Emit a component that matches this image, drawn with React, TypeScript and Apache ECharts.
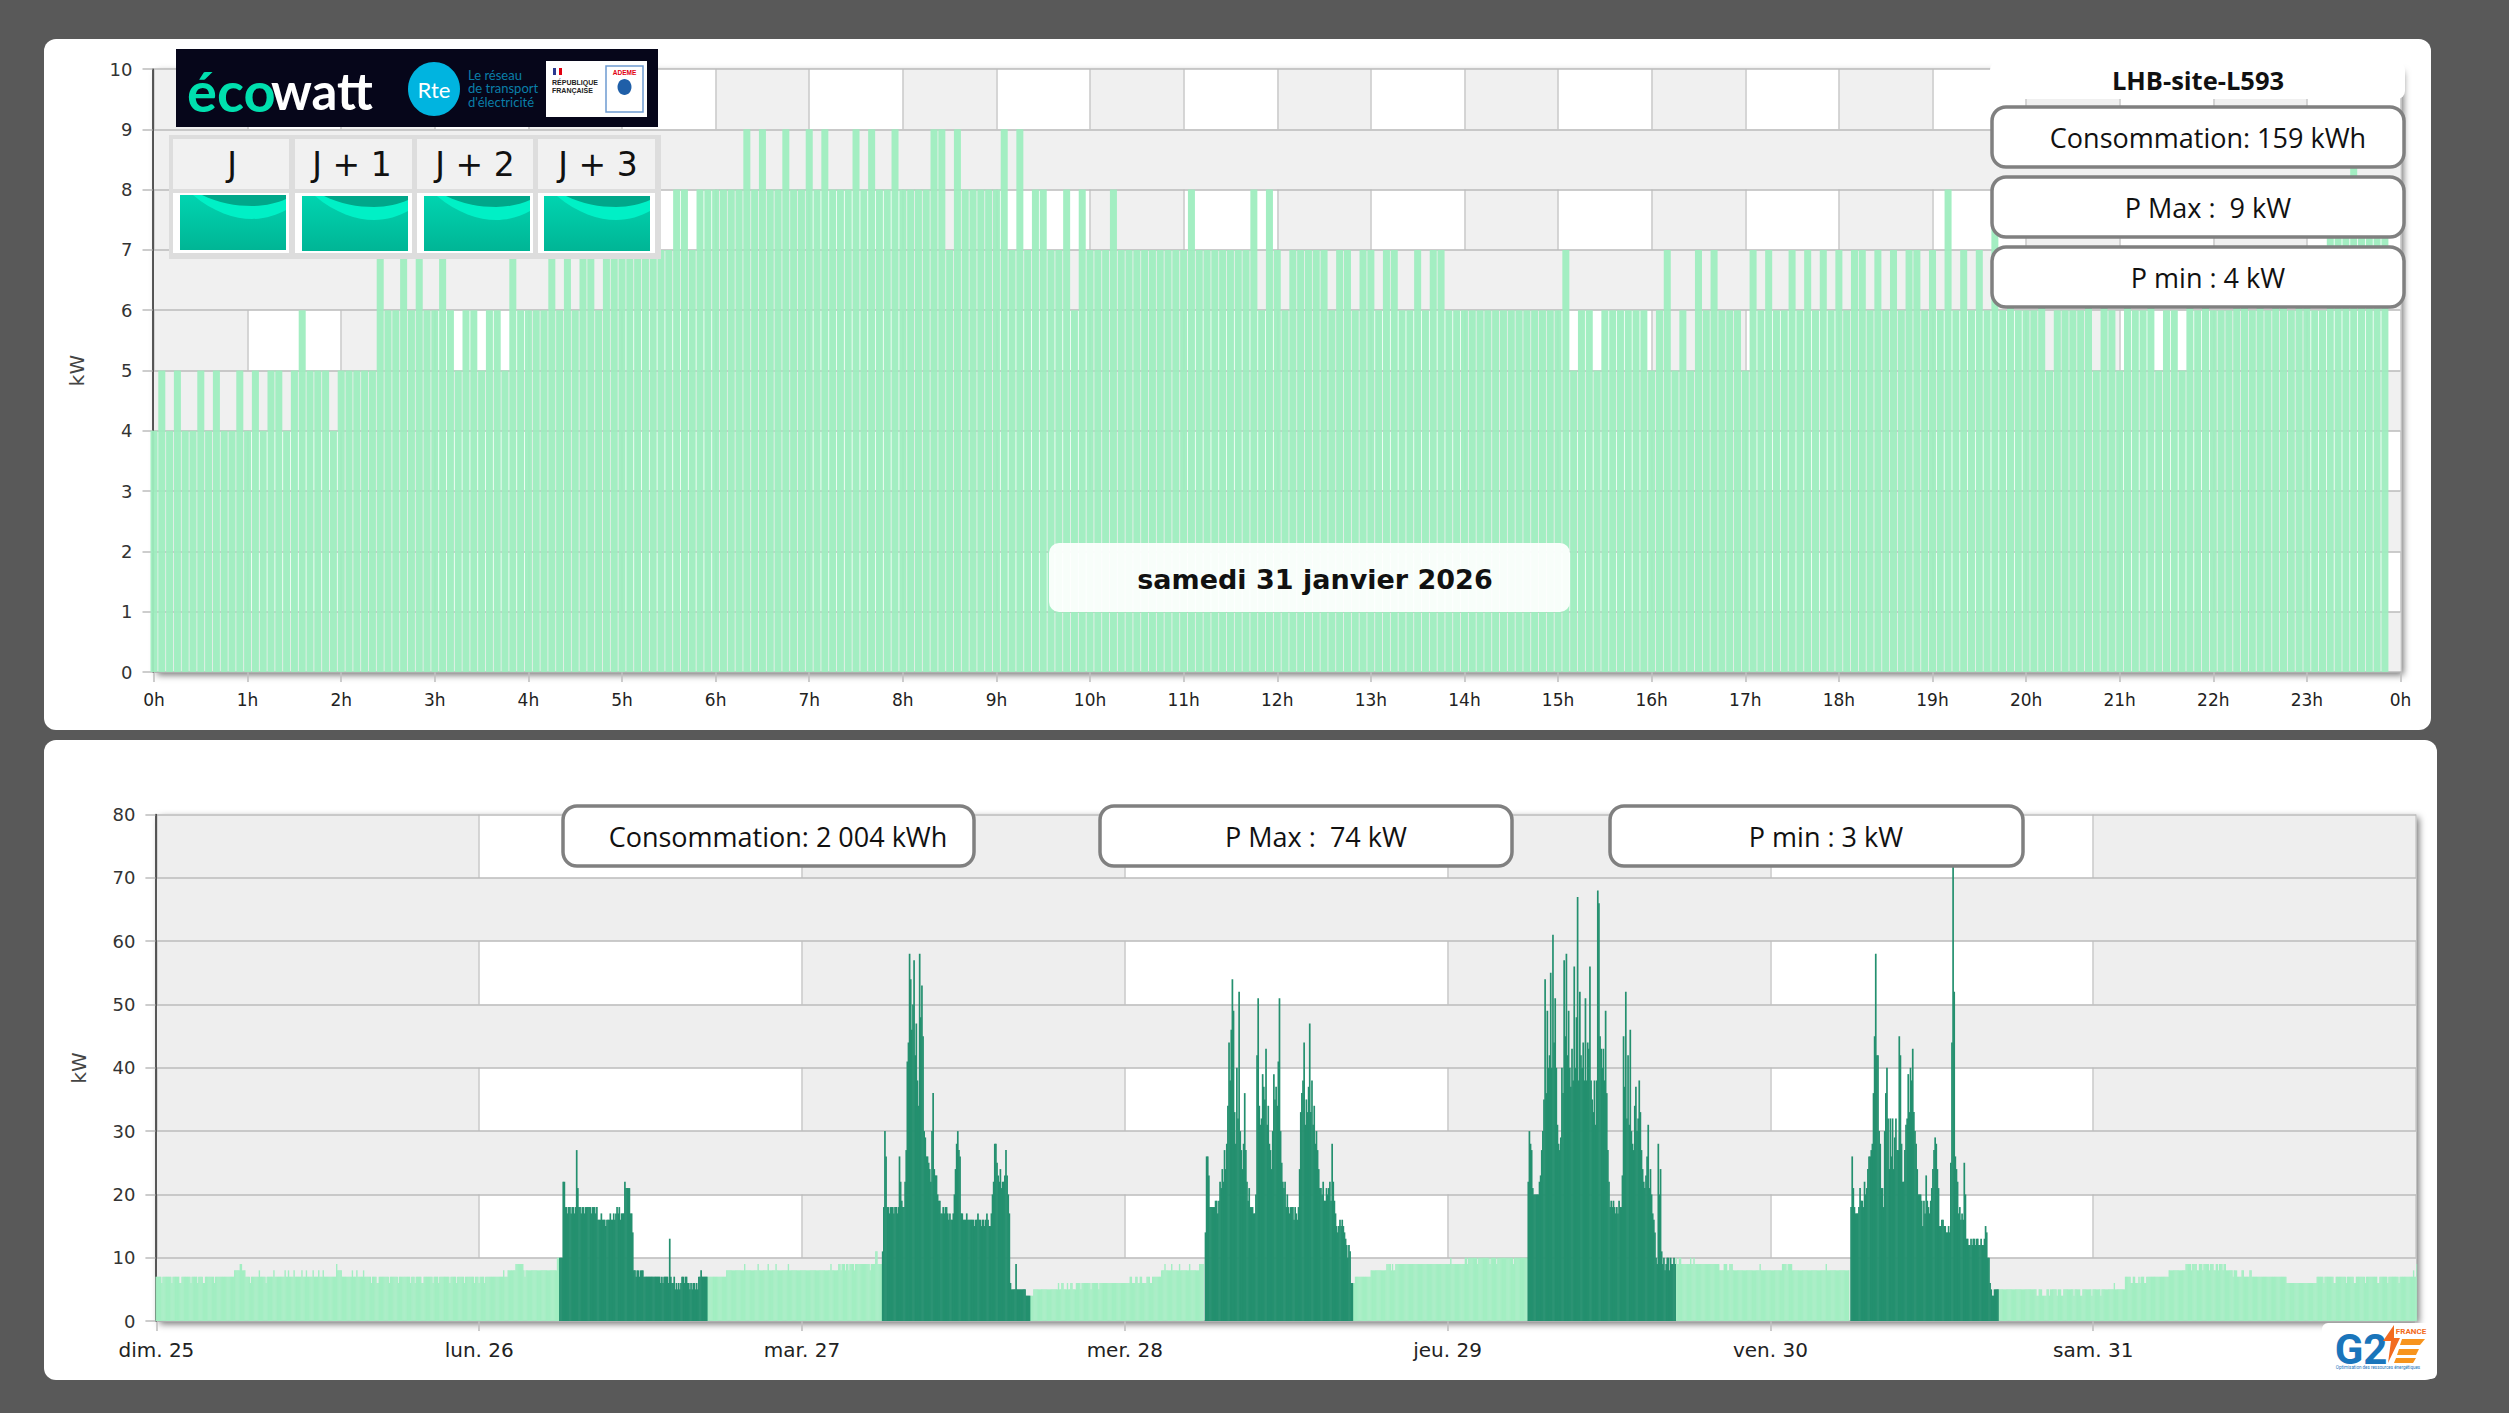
import React, { useEffect, useRef } from "react";
import * as echarts from "echarts";

const W = 2509;
const H = 1413;

// --- Top chart : one value every 5 minutes, one row per hour
const hourLabels = Array.from({ length: 25 }, (_, h) => `${h % 24}h`);
const dayPower: number[] = [
  4,5,4,5,4,4,5,4,5,4,4,5,
  4,5,4,5,5,4,5,6,5,5,5,4,
  5,5,5,5,5,7,6,6,7,6,7,6,
  6,7,6,5,6,6,5,6,6,5,7,6,
  6,6,6,7,6,7,6,7,7,6,7,7,
  7,7,7,7,7,7,7,8,8,7,8,8,
  8,8,8,8,9,8,9,8,8,9,8,8,
  9,8,9,8,8,8,9,8,9,8,8,9,
  8,8,8,8,9,9,7,9,8,8,8,8,
  8,9,7,9,7,8,8,7,7,8,6,8,
  7,7,7,8,7,7,7,7,7,7,7,7,
  7,8,7,7,7,7,7,7,7,8,6,8,
  7,6,7,7,7,7,7,6,7,7,6,7,
  7,6,7,7,6,6,7,6,7,7,6,6,
  6,6,6,6,6,6,6,6,6,6,6,6,
  6,7,5,6,6,5,6,6,6,6,6,6,
  5,6,7,5,6,5,7,6,7,6,6,6,
  5,7,6,7,6,6,7,6,7,6,7,6,
  7,6,7,7,6,7,6,7,6,7,7,6,
  7,6,8,6,7,6,7,6,8,6,7,6,
  6,6,7,5,6,6,6,6,7,5,7,6,
  5,7,6,6,7,5,6,6,5,7,6,7,
  6,6,6,7,7,6,7,6,7,7,6,7,
  7,6,6,8,8,8,9,8,8,8,8,
];

// --- Bottom chart : week, 5 minute steps
const dayLabels = ["dim. 25", "lun. 26", "mar. 27", "mer. 28", "jeu. 29", "ven. 30", "sam. 31"];

// off-hours periods, as value,count pairs
const offSunMon = [7,5,6,1,7,8,6,1,7,6,6,2,7,8,6,1,7,5,6,1,7,4,6,2,7,8,6,1,7,5,7,12,8,5,9,2,8,3,7,4,6,1,7,7,8,1,7,5,6,1,7,6,8,1,7,9,8,1,7,2,8,1,7,4,8,1,7,6,8,1,7,3,8,1,7,5,8,1,7,4,8,1,7,3,8,1,7,11,9,1,8,4,7,9,8,1,7,3,8,1,7,5,8,1,7,6,6,1,7,4,6,2,7,9,6,1,7,7,6,1,7,10,6,1,7,3,6,1,7,5,6,2,7,8,6,1,7,4,6,1,7,9,6,1,7,5,6,1,7,6,6,1,7,8,6,1,7,3,6,1,7,4,6,1,7,16,8,1,7,3,8,7,9,7,8,1,7,1,8,28,10,2];
const offMonTue = [7,17,8,16,9,1,8,11,9,1,8,8,9,1,8,6,9,1,8,10,9,1,8,37,9,1,8,6,9,2,8,1,9,3,8,1,9,2,8,1,9,4,8,1,9,13,8,1,9,4,11,2,9,4];
const offTueWed = [4,3,5,22,6,1,5,2,6,2,5,3,6,1,5,2,6,2,5,3,6,4,5,1,6,8,5,1,6,6,5,1,6,27,7,2,6,3,7,2,6,2,7,2,6,4,7,3,6,2,7,8,8,3,9,1,8,5,9,1,8,6,9,1,8,8,9,1,8,8,9,4];
const offWedThu = [6,2,7,14,8,14,9,4,8,1,9,1,8,2,9,49,10,1,9,12,10,2,9,1,10,8,9,1,10,10,9,1,10,5,9,1,10,14,9,1,10,12];
const offThuFri = [10,1,9,2,10,2,9,8,10,1,9,2,10,1,9,22,8,4,9,3,8,2,9,3,8,24,9,1,8,19,9,4,8,1,9,4,8,30,9,1,8,20];
const offFriSun = [5,34,4,2,5,3,4,4,5,2,4,1,5,6,4,1,5,3,4,2,5,9,4,1,5,5,4,2,5,8,4,1,5,7,4,1,5,11,6,1,5,9,7,5,6,2,7,2,6,3,7,1,6,1,7,3,6,2,7,20,8,15,9,5,8,1,9,4,8,2,9,3,8,1,9,5,8,1,9,3,8,2,9,2,8,1,9,3,8,1,9,2,8,6,7,1,8,3,7,4,8,2,7,5,8,2,7,31,6,27,7,6,6,1,7,8,6,2,7,9,6,1,7,6,6,2,7,8,6,1,7,10,6,2,7,7,6,1,7,9,6,1,7,12,8,1,7,2,9,2,8,4];

// working hours (6h - 17h), 132 values each
const workMon = [10,10,10,22,22,18,18,17,18,18,17,18,18,17,18,27,21,18,18,17,18,18,17,18,18,18,18,18,17,18,18,18,17,18,16,16,16,17,16,16,16,15,16,16,16,17,16,16,17,16,17,18,17,18,16,17,17,17,22,21,21,21,21,17,17,14,8,8,7,8,8,7,8,8,8,7,7,7,7,7,7,7,7,7,7,7,7,7,7,7,6,7,6,7,7,7,7,6,13,7,6,6,7,5,6,5,6,5,6,7,7,6,7,7,6,6,5,6,5,6,6,5,6,5,7,7,8,7,7,7,7,7];
const workTue = [11,18,30,26,18,18,17,18,18,18,17,18,18,17,18,26,22,19,18,18,22,27,41,44,58,54,46,50,57,42,47,38,34,58,48,53,45,30,29,26,26,25,24,22,30,36,24,23,23,20,19,19,17,17,18,17,18,18,17,16,17,16,16,17,20,24,28,30,27,26,17,17,16,16,16,17,16,16,16,16,16,16,15,16,16,17,16,16,15,16,16,15,16,17,16,15,15,17,20,22,28,28,25,23,22,24,21,22,22,23,27,23,20,17,6,5,5,5,5,9,5,5,5,5,5,5,5,5,4,4,4,4];
const workWed = [14,26,26,23,18,18,18,18,18,19,19,17,19,22,21,24,22,27,24,28,34,44,38,46,54,49,33,28,40,32,52,30,27,24,28,36,27,22,19,21,18,18,18,17,17,20,42,51,34,31,32,39,37,35,43,31,34,28,27,24,30,39,35,37,34,41,51,30,25,22,21,22,18,20,18,17,18,18,18,16,18,17,16,18,24,33,36,38,44,31,35,33,37,47,33,38,31,34,28,30,27,24,21,21,20,22,19,19,21,20,21,22,19,28,22,19,17,15,14,15,16,15,16,15,14,13,12,10,12,11,6,6];
const workThu = [22,30,28,27,21,20,20,20,20,20,22,23,27,30,35,54,36,49,40,42,55,40,61,44,51,40,31,28,27,29,40,36,57,45,58,42,49,40,37,43,38,56,40,48,67,38,52,42,40,44,38,51,38,44,43,56,38,35,33,38,31,38,68,66,45,43,40,43,38,49,36,27,22,18,19,18,19,18,17,18,17,19,18,18,23,45,37,52,32,42,31,46,30,28,27,34,37,30,32,38,33,27,24,22,21,23,26,31,21,24,20,17,16,14,10,9,28,20,24,11,9,10,8,9,10,10,8,10,9,9,10,9];
const workFri = [18,26,21,18,17,17,17,18,21,19,19,18,22,20,21,24,26,26,27,28,36,45,58,42,42,30,28,21,21,18,30,36,40,32,24,32,26,32,24,29,32,27,27,45,42,28,22,22,27,31,32,39,33,40,38,43,33,30,28,24,20,20,20,19,15,19,17,23,19,18,17,19,21,24,27,29,28,24,21,15,15,16,16,15,15,14,14,15,14,25,44,74,52,26,24,22,17,18,16,17,16,25,20,13,13,12,12,13,12,13,13,12,13,13,12,12,13,12,12,13,15,14,10,10,6,5,4,4,5,5,5,5];

const offPeriods = [offSunMon, offMonTue, offTueWed, offWedThu, offThuFri, offFriSun];
const offStarts = [0, 492, 780, 1068, 1356, 1644];
const workPeriods = [workMon, workTue, workWed, workThu, workFri];
const workStarts = [360, 648, 936, 1224, 1512];

const STEPS_PER_DAY = 288;

function buildOff(): [number, number][] {
  const out: [number, number][] = [];
  offPeriods.forEach((rle, p) => {
    let idx = offStarts[p];
    for (let k = 0; k < rle.length; k += 2) {
      for (let c = 0; c < rle[k + 1]; c++) {
        out.push([idx / STEPS_PER_DAY, rle[k]]);
        idx++;
      }
    }
  });
  return out;
}
function buildWork(): [number, number][] {
  const out: [number, number][] = [];
  workPeriods.forEach((vals, p) => {
    vals.forEach((v, i) => out.push([(workStarts[p] + i) / STEPS_PER_DAY, v]));
  });
  return out;
}

const TXT = "DejaVu Sans";
const GRAY_BAND = "#f0f0f0";
const NONE = "rgba(255,255,255,0)";

const WAVE_LIGHT = "M0 0 L13 0 C33 17 55 24 72 24 C85 24 97 20 106 15 L106 0 Z";
const WAVE_DARK = "M22 0 C38 8 56 11 72 11 C85 11 97 8 106 4 L106 0 Z";
echarts.graphic.registerShape("waveLight", echarts.graphic.extendPath(WAVE_LIGHT, {}) as any);
echarts.graphic.registerShape("waveDark", echarts.graphic.extendPath(WAVE_DARK, {}) as any);

function txt(text: string, x: number, y: number, fontSize: number, fill: string, o: any = {}) {
  const { z, fontWeight, fontFamily, align, ...rest } = o;
  return {
    type: "text",
    z: z ?? 30,
    silent: true,
    style: {
      text, x, y, fontSize, fill,
      fontFamily: fontFamily ?? TXT,
      fontWeight: fontWeight ?? "normal",
      textAlign: align ?? "center",
      align: align ?? "center",
      textVerticalAlign: "middle",
      verticalAlign: "middle",
      ...rest,
    },
  };
}
function box(x: number, y: number, w: number, h: number, r: number, fill: any, o: any = {}) {
  const { z, ...rest } = o;
  return { type: "rect", z: z ?? 30, silent: true, shape: { x, y, width: w, height: h, r }, style: { fill, ...rest } };
}
function poly(points: number[][], fill: string) {
  return { type: "polygon", z: 31, silent: true, shape: { points }, style: { fill } };
}

function statBox(x: number, y: number, w: number, h: number, label: string, cx: number) {
  return [
    box(x, y, w, h, 14, "#ffffff", { stroke: "#808080", lineWidth: 3.5 }),
    txt(label, cx, y + h / 2, 27, "#111111", { fontFamily: "Open Sans" }),
  ];
}

function ecowatt() {
  const els: any[] = [];
  els.push(box(176, 49, 482, 78, 0, "#06061a"));
  els.push(txt("éco", 187, 90, 56, "#00dfae", { align: "left", fontFamily: "Lato", fontWeight: "bold" }));
  els.push(txt("watt", 271, 90, 51, "#ffffff", { align: "left", fontFamily: "Lato", fontWeight: "bold" }));
  els.push({ type: "ellipse", z: 30, silent: true, shape: { cx: 434, cy: 89, rx: 26, ry: 27 }, style: { fill: "#00b4e0" } });
  els.push(txt("Rte", 434, 89, 22, "#ffffff", { fontFamily: "Lato" }));
  els.push(txt("Le réseau", 468, 75, 13, "#0a7ea8", { align: "left", fontFamily: "Lato" }));
  els.push(txt("de transport", 468, 88, 13, "#0a7ea8", { align: "left", fontFamily: "Lato" }));
  els.push(txt("d'électricité", 468, 102, 13, "#0a7ea8", { align: "left", fontFamily: "Lato" }));
  els.push(box(546, 61, 101, 56, 0, "#ffffff"));
  els.push(box(553, 68, 3, 7, 0, "#2b3990"));
  els.push(box(556, 68, 3, 7, 0, "#ffffff"));
  els.push(box(559, 68, 3, 7, 0, "#e1000f"));
  els.push(txt("RÉPUBLIQUE", 552, 82, 7, "#222222", { align: "left", fontWeight: "bold", fontFamily: "Liberation Sans" }));
  els.push(txt("FRANÇAISE", 552, 90, 7, "#222222", { align: "left", fontWeight: "bold", fontFamily: "Liberation Sans" }));
  els.push(box(606, 66, 37, 46, 0, "#ffffff", { stroke: "#6d9bd1", lineWidth: 1.5 }));
  els.push(txt("ADEME", 624.5, 72, 6.5, "#e1000f", { fontWeight: "bold", fontFamily: "Liberation Sans" }));
  els.push({ type: "ellipse", z: 31, silent: true, shape: { cx: 624.5, cy: 87, rx: 7, ry: 8 }, style: { fill: "#1f5fa8" } });
  return els;
}

function waves() {
  const cells = [173, 295, 417, 538];
  const widths = [116, 117, 116, 117];
  const labels = ["J", "J + 1", "J + 2", "J + 3"];
  const centers = [232, 352, 475, 598];
  const images = [[180, 195], [302, 196], [424, 196], [544, 196]];
  const els: any[] = [box(169, 135, 492, 124, 0, "#dddddd")];
  cells.forEach((x, i) => {
    els.push(box(x, 139, widths[i], 50, 0, "#f1f1f1"));
    els.push(box(x, 193, widths[i], 60, 0, "#ffffff"));
    els.push(txt(labels[i], centers[i], 164, 33, "#111111", { fontWeight: i === 0 ? "normal" : "normal" }));
    const [ix, iy] = images[i];
    els.push(box(ix, iy, 106, 55, 0, new echarts.graphic.LinearGradient(0, 0, 0, 1, [
      { offset: 0, color: "#00d4b0" },
      { offset: 1, color: "#00b595" },
    ])));
    els.push({ type: "waveLight", z: 31, silent: true, x: ix, y: iy, style: { fill: "#00f0c6" } });
    els.push({ type: "waveDark", z: 32, silent: true, x: ix, y: iy, style: { fill: "#00a78a" } });
  });
  return els;
}

function g2e() {
  return [
    box(2322, 1323, 115, 56, 6, "#ffffff"),
    txt("G2", 2361, 1349, 42, "#1a75bb", { fontFamily: "Roboto", fontWeight: "bold" }),
    txt("FRANCE", 2411, 1331, 8, "#f26b21", { fontFamily: "Roboto", fontWeight: "bold" }),
    poly([[2394, 1325], [2383, 1341], [2391, 1341], [2388, 1363], [2400, 1338], [2394, 1338]], "#f26b21"),
    poly([[2402, 1339], [2425, 1339], [2420, 1345], [2400, 1345]], "#f7941d"),
    poly([[2399, 1349], [2419, 1349], [2416, 1355], [2397, 1355]], "#f7941d"),
    poly([[2396, 1358], [2416, 1358], [2413, 1363], [2394, 1363]], "#f7941d"),
    txt("Optimisation des ressources énergétiques", 2378, 1367, 4.5, "#1a75bb", { fontFamily: "Roboto" }),
  ];
}

function axisCommon() {
  return {
    axisLine: { show: true, onZero: false, lineStyle: { color: "#333333", width: 1.6 } },
    axisTick: { show: true, length: 10, lineStyle: { color: "#c0c0c0", width: 1.6 } },
  };
}

export default function App() {
  const ref = useRef<HTMLDivElement>(null);
  useEffect(() => {
    document.body.style.margin = "0";
    document.body.style.background = "#ffffff";
    const chart = echarts.init(ref.current!, undefined, { renderer: "svg" });
    const shadow = { shadowColor: "rgba(0,0,0,0.55)", shadowBlur: 7, shadowOffsetX: 3, shadowOffsetY: 3 };
    const xLine = { show: true, lineStyle: { color: "#cccccc", width: 1.6 } };
    const yLine = { show: true, lineStyle: { color: "#bbbbbb", width: 1.6 } };
    chart.setOption({
      animation: false,
      backgroundColor: "#595959",
      grid: [
        { left: 154, top: 69, width: 2246.5, height: 603, show: true, backgroundColor: "#ffffff", borderWidth: 0, ...shadow },
        { left: 156.4, top: 814.6, width: 2259.6, height: 506.4, show: true, backgroundColor: "#ffffff", borderWidth: 0, ...shadow },
      ],
      xAxis: [
        {
          type: "value", gridIndex: 0, min: 0, max: 24, interval: 1, z: 0,
          ...axisCommon(),
          axisLine: { show: true, onZero: false, lineStyle: { color: "#888888", width: 1.6 } },
          axisLabel: { margin: 19, fontFamily: TXT, fontSize: 17, color: "#222222", formatter: (v: number) => hourLabels[v] ?? "" },
          splitLine: xLine,
          splitArea: { show: true, areaStyle: { color: [GRAY_BAND, NONE] } },
        },
        {
          type: "value", gridIndex: 1, min: 0, max: 7, interval: 1, z: 0,
          ...axisCommon(),
          axisLine: { show: true, onZero: false, lineStyle: { color: "#888888", width: 1.6 } },
          axisLabel: { margin: 19, fontFamily: TXT, fontSize: 20, color: "#222222", formatter: (v: number) => dayLabels[v] ?? "" },
          splitLine: xLine,
          splitArea: { show: true, areaStyle: { color: ["#eeeeee", NONE] } },
        },
      ],
      yAxis: [
        {
          type: "value", gridIndex: 0, min: 0, max: 10, interval: 1, offset: 1.5, z: 1,
          ...axisCommon(),
          name: "kW", nameLocation: "middle", nameGap: 66, nameRotate: 90,
          nameTextStyle: { fontFamily: TXT, fontSize: 20, color: "#444444" },
          axisLabel: { margin: 20, fontFamily: TXT, fontSize: 18, color: "#333333" },
          splitLine: yLine,
          splitArea: { show: true, areaStyle: { color: [GRAY_BAND, NONE] } },
        },
        {
          type: "value", gridIndex: 1, min: 0, max: 80, interval: 10, offset: 1, z: 1,
          ...axisCommon(),
          name: "kW", nameLocation: "middle", nameGap: 66, nameRotate: 90,
          nameTextStyle: { fontFamily: TXT, fontSize: 20, color: "#444444" },
          axisLabel: { margin: 20, fontFamily: TXT, fontSize: 18, color: "#333333" },
          splitLine: yLine,
          splitArea: { show: true, areaStyle: { color: ["#eeeeee", NONE] } },
        },
      ],
      series: [
        {
          type: "bar", xAxisIndex: 0, yAxisIndex: 0, barWidth: 7, z: 3,
          data: dayPower.map((v, i) => [i / 12, v]),
          itemStyle: { color: "#9eedbf", opacity: 0.95 },
          silent: true,
        },
        {
          type: "bar", xAxisIndex: 1, yAxisIndex: 1, barWidth: 1.4, barGap: "-100%", z: 3,
          data: buildOff(),
          itemStyle: { color: "#a2eec2" },
          silent: true,
        },
        {
          type: "bar", xAxisIndex: 1, yAxisIndex: 1, barWidth: 1.7, barGap: "-100%", z: 3,
          data: buildWork(),
          itemStyle: { color: "#24906f" },
          silent: true,
        },
      ],
      graphic: {
        elements: [
          box(44, 39, 2387, 691, 12, "#ffffff", { z: -1 }),
          box(44, 740, 2393, 640, 12, "#ffffff", { z: -1 }),
          ...ecowatt(),
          ...waves(),
          box(1990, 62, 415, 37, 8, "#ffffff"),
          txt("LHB-site-L593", 2198, 80, 25.5, "#111111", { fontFamily: "Open Sans", fontWeight: "bold" }),
          ...statBox(1992, 107, 412, 60, "Consommation: 159 kWh", 2208),
          ...statBox(1992, 177, 412, 60, "P Max :  9 kW", 2208),
          ...statBox(1992, 247, 412, 60, "P min : 4 kW", 2208),
          box(1049, 543, 521, 69, 10, "#ffffff", { opacity: 0.92 }),
          txt("samedi 31 janvier 2026", 1315, 579, 27, "#111111", { fontWeight: "bold" }),
          ...statBox(563, 806, 411, 60, "Consommation: 2 004 kWh", 778),
          ...statBox(1100, 806, 412, 60, "P Max :  74 kW", 1316),
          ...statBox(1610, 806, 413, 60, "P min : 3 kW", 1826),
          ...g2e(),
        ],
      },
    });
    return () => chart.dispose();
  }, []);
  return <div ref={ref} style={{ width: W, height: H }} />;
}
